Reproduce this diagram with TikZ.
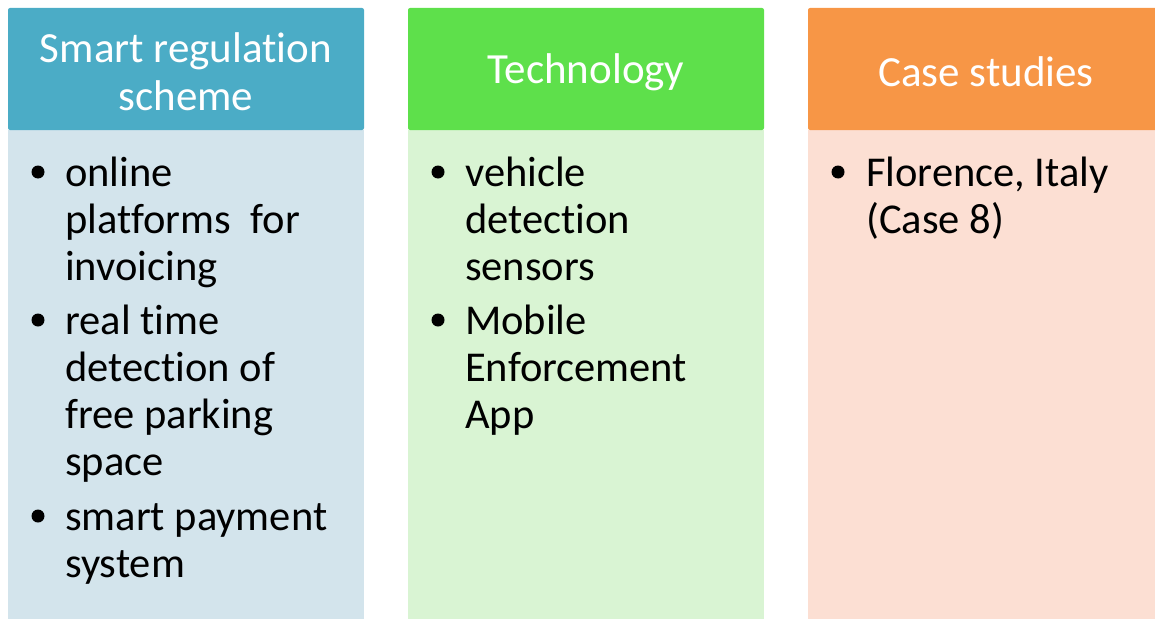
\documentclass[tikz,border=0pt]{standalone}
\usepackage{fontspec}
\setmainfont{Carlito}[Ligatures=NoCommon]
\definecolor{headA}{HTML}{4BACC6}
\definecolor{bodyA}{HTML}{D3E4EC}
\definecolor{headB}{HTML}{5EE04B}
\definecolor{bodyB}{HTML}{D9F4D3}
\definecolor{headC}{HTML}{F79646}
\definecolor{bodyC}{HTML}{FCDFD3}
\begin{document}
\begin{tikzpicture}[x=1pt,y=-1pt,
  headbox/.style={rounded corners=2pt},
  headtext/.style={text=white,font=\fontsize{43}{48}\selectfont,align=center,inner sep=0pt},
  bodyline/.style={anchor=base west,inner sep=0pt,font=\fontsize{42.5}{47}\selectfont,text=black},
  bulletdot/.style={circle,fill=black,minimum size=13pt,inner sep=0pt}]
\useasboundingbox (0,0) rectangle (1155,618);
\begin{scope}
\clip (0,0) rectangle (1155,618);
% column panels
\fill[bodyA] (8,130) rectangle (364,630);
\fill[headA,headbox] (8,8) rectangle (364,130);
\fill[bodyB] (408,130) rectangle (764,630);
\fill[headB,headbox] (408,8) rectangle (764,130);
\fill[bodyC] (808,130) rectangle (1164,630);
\fill[headC,headbox] (808,8) rectangle (1164,130);
\end{scope}
% headings
\node[headtext] (hA) at (186,72) {Smart regulation\\scheme};
\node[headtext] (hB) at (586,72) {Technology};
\node[headtext] (hC) at (986,72) {Case studies};
% first column
\node[bulletdot] (bA1) at (38,172) {};
\node[bodyline] (tA1a) at (65,186) {online};
\node[bodyline] (tA1b) at (65,233) {platforms\ \ for};
\node[bodyline] (tA1c) at (65,280) {invoicing};
\node[bulletdot] (bA2) at (38,320) {};
\node[bodyline] (tA2a) at (65,334) {real time};
\node[bodyline] (tA2b) at (65,381) {detection of};
\node[bodyline] (tA2c) at (65,428) {free parking};
\node[bodyline] (tA2d) at (65,475) {space};
\node[bulletdot] (bA3) at (38,516) {};
\node[bodyline] (tA3a) at (65,530) {smart payment};
\node[bodyline] (tA3b) at (65,577) {system};
% second column
\node[bulletdot] (bB1) at (438,172) {};
\node[bodyline] (tB1a) at (465,186) {vehicle};
\node[bodyline] (tB1b) at (465,233) {detection};
\node[bodyline] (tB1c) at (465,280) {sensors};
\node[bulletdot] (bB2) at (438,320) {};
\node[bodyline] (tB2a) at (465,334) {Mobile};
\node[bodyline] (tB2b) at (465,381) {Enforcement};
\node[bodyline] (tB2c) at (465,428) {App};
% third column
\node[bulletdot] (bC1) at (838,172) {};
\node[bodyline] (tC1a) at (866,186) {Florence, Italy};
\node[bodyline] (tC1b) at (866,233) {(Case 8)};
\end{tikzpicture}
\end{document}
